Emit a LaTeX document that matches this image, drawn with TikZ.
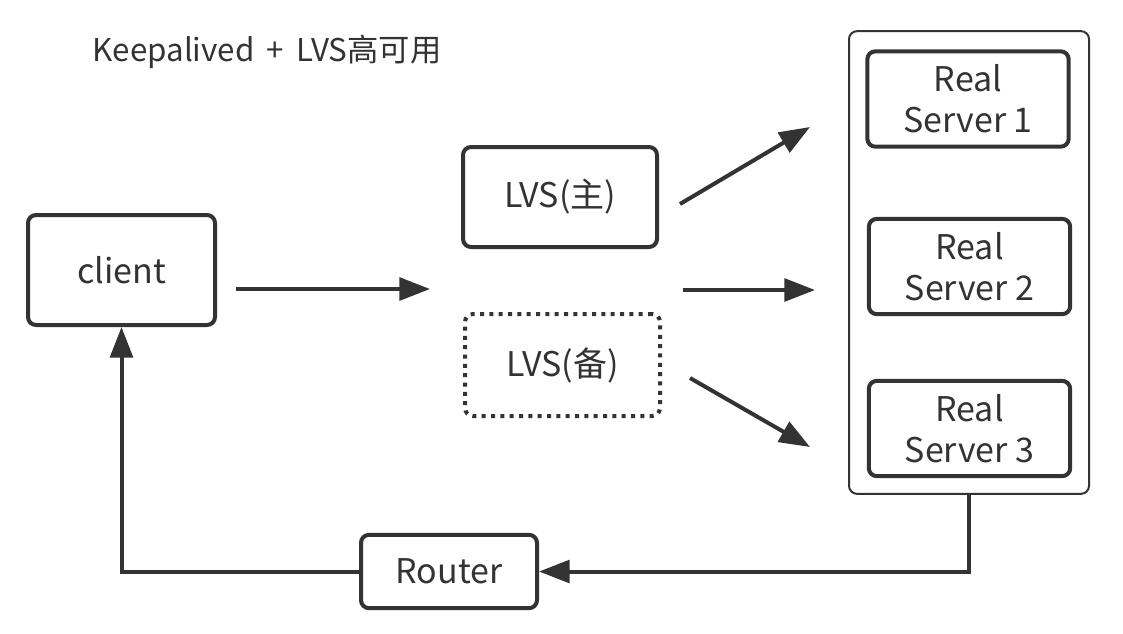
\documentclass[tikz,border=0pt]{standalone}
\usepackage{fontspec}
\setmainfont{Noto Sans CJK SC}
\usepackage{tikz}
\usetikzlibrary{arrows.meta, positioning}

\definecolor{ink}{HTML}{333333}

\begin{document}
\begin{tikzpicture}[x=0.75pt, y=-0.75pt,
  box/.style={draw=ink, line width=3pt, rounded corners=6pt, align=center,
    text=ink, font=\fontsize{25.5}{31}\selectfont, inner sep=0pt},
  dotbox/.style={box, dash pattern=on 3pt off 4pt},
  group/.style={draw=ink, line width=1.5pt, rounded corners=6pt},
  arr/.style={-{Triangle[length=23pt, width=17pt]}, draw=ink, line width=3pt}]
  \useasboundingbox (0,0) rectangle (1123,633);
  \node[anchor=west, text=ink, font=\fontsize{23.5}{30}\selectfont] (title) at (88,52) {Keepalived\hspace{0.4em}+\hspace{0.4em}LVS高可用};
  \node[box, minimum width=140.25pt, minimum height=82.5pt] (client) at (121.5,270) {client};
  \node[box, minimum width=145.5pt, minimum height=75pt] (lvsm) at (560,197) {LVS(主)};
  \node[dotbox, minimum width=146.25pt, minimum height=76.5pt] (lvsb) at (562.5,365) {LVS(备)};
  \node[group, minimum width=180pt, minimum height=347pt] (rsgroup) at (969,262.5) {};
  \node[box, minimum width=151pt, minimum height=71.5pt] (rs1) at (968,99) {Real\\Server 1};
  \node[box, minimum width=151pt, minimum height=71.5pt] (rs2) at (969.5,266.5) {Real\\Server 2};
  \node[box, minimum width=151pt, minimum height=71.5pt] (rs3) at (969.5,428.5) {Real\\Server 3};
  \node[box, minimum width=132pt, minimum height=55pt] (router) at (449,571.5) {Router};
  % free arrow ends
  \coordinate (cout) at (236,289);
  \coordinate (cin) at (430,289);
  \coordinate (o1) at (680,204);
  \coordinate (t1) at (810,127);
  \coordinate (o2) at (683,290);
  \coordinate (t2) at (815,290);
  \coordinate (o3) at (690,378);
  \coordinate (t3) at (810,447);
  \draw[arr] (cout) -- (cin);
  \draw[arr] (o1) -- (t1);
  \draw[arr] (o2) -- (t2);
  \draw[arr] (o3) -- (t3);
  \draw[arr] (rsgroup.south) |- (router.east);
  \draw[arr] (router.west) -| (client.south);
\end{tikzpicture}
\end{document}
